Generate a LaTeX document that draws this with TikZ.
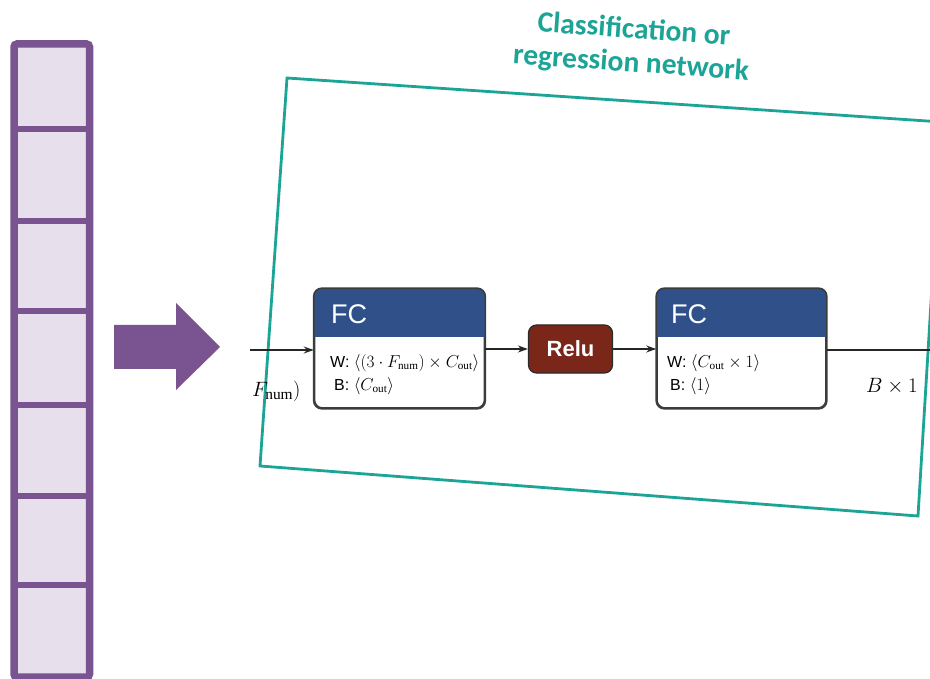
\documentclass[tikz,border=0pt]{standalone}
\usepackage{fontspec}
\setmainfont{Liberation Serif}
\setsansfont{Liberation Sans}
\newfontfamily\titlefont{Carlito}
\usetikzlibrary{arrows.meta,calc}

\definecolor{stackline}{HTML}{7A5490}
\definecolor{stackfill}{HTML}{E7DFEC}
\definecolor{netteal}{HTML}{1CA496}
\definecolor{fchead}{HTML}{2F5088}
\definecolor{relufill}{HTML}{7A2619}
\definecolor{frame}{HTML}{3C3C3C}

\tikzset{
  fcbox/.style={draw=frame, line width=1.6pt, rounded corners=8pt,
    minimum width=170pt, minimum height=119pt, inner sep=0pt},
  fctitle/.style={anchor=west, text=white, font=\sffamily\fontsize{27}{30}\selectfont, inner sep=0pt},
  param/.style={anchor=west, font=\sffamily\fontsize{16}{18}\selectfont, inner sep=0pt},
  relubox/.style={draw=frame!70!black, fill=relufill, line width=1.2pt, rounded corners=8pt,
    minimum width=84pt, minimum height=48pt, inner sep=0pt, text=white,
    font=\sffamily\bfseries\fontsize{22}{24}\selectfont},
  titleline/.style={text=netteal, font=\titlefont\bfseries\fontsize{29.5}{30}\selectfont,
    rotate=-4, inner sep=0pt},
  wire/.style={draw=black!85, line width=1.8pt},
  arrowwire/.style={wire, -{Stealth[length=10pt,width=7pt]}},
}

\begin{document}
\begin{tikzpicture}[x=1pt,y=-1pt]
  \clip (0,0) rectangle (930,679);
  \fill[white] (0,0) rectangle (930,679);

  % feature stack on the left
  \draw[stackline, line width=7.5pt, fill=stackfill, rounded corners=3pt]
    (14,44) rectangle (89.5,677);
  \foreach \yy in {129,221,311,405,496,585}
    \draw[stackline, line width=6pt] (14,\yy) -- (89.5,\yy);

  % block arrow
  \fill[stackline] (114,325) -- (176,325) -- (176,303) -- (220,347)
    -- (176,390) -- (176,369) -- (114,369) -- cycle;

  % tilted frame of the network
  \draw[netteal, line width=2.8pt, line join=miter]
    (287,78) -- (942,122) -- (918,516) -- (260,466) -- cycle;
  \node[titleline] (title1) at (634,28) {Classification or};
  \node[titleline] (title2) at (631,64) {regression network};

  % first fully connected layer
  \node[fcbox] (fc1) at (399.5,348.5) {};
  \begin{scope}
    \clip[rounded corners=8pt] (fc1.north west) rectangle (fc1.south east);
    \fill[fchead] (fc1.north west) rectangle ($(fc1.north east)+(0,49)$);
  \end{scope}
  \draw[frame, line width=1.6pt, rounded corners=8pt] (fc1.north west) rectangle (fc1.south east);
  \node[fctitle] (fc1t) at (331,314) {FC};
  \node[param] (fc1w) at (330,363)
    {W: $\langle(3\cdot F_{\mathrm{num}})\times C_{\mathrm{out}}\rangle$};
  \node[param] (fc1b) at (334,386) {B: $\langle C_{\mathrm{out}}\rangle$};

  % activation
  \node[relubox] (relu) at (570.5,349) {Relu};

  % second fully connected layer
  \node[fcbox, minimum width=169pt] (fc2) at (741.5,348.5) {};
  \begin{scope}
    \clip[rounded corners=8pt] (fc2.north west) rectangle (fc2.south east);
    \fill[fchead] (fc2.north west) rectangle ($(fc2.north east)+(0,49)$);
  \end{scope}
  \draw[frame, line width=1.6pt, rounded corners=8pt] (fc2.north west) rectangle (fc2.south east);
  \node[fctitle] (fc2t) at (671,314) {FC};
  \node[param] (fc2w) at (667,363) {W: $\langle C_{\mathrm{out}}\times 1\rangle$};
  \node[param] (fc2b) at (670,386) {B: $\langle 1\rangle$};

  % connectors
  \coordinate (inp) at (250,350);
  \coordinate (outp) at (935,350);
  \draw[arrowwire] (inp) -- (inp -| fc1.west);
  \draw[arrowwire] (fc1.east |- relu.west) -- (relu.west);
  \draw[arrowwire] (relu.east) -- (relu.east -| fc2.west);
  \draw[wire] (fc2.east |- outp) -- (outp);

  % shape labels
  \node[anchor=west, inner sep=0pt, font=\fontsize{22}{24}\selectfont] (inshape) at (252,391)
    {$F_{\mathrm{num}})$};
  \node[anchor=west, inner sep=0pt, font=\fontsize{20}{22}\selectfont] (outshape) at (866,386)
    {$B\times 1$};
\end{tikzpicture}
\end{document}
